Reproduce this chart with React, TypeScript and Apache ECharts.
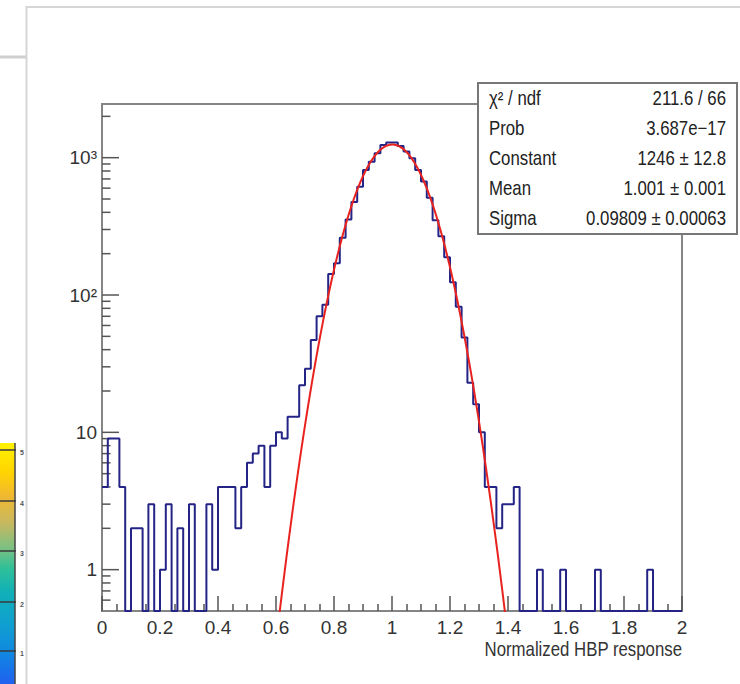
import React, { useEffect, useRef } from 'react';
import * as echarts from 'echarts';

const FONT = '"Liberation Sans Narrow", "Arial Narrow", "Liberation Sans", Arial, sans-serif';

// Histogram: 100 bins on [0, 2]
const xRange = [0, 2];
const counts = [
  4, 9, 9, 4, 0, 2, 2, 0, 3, 0,
  1, 3, 0, 2, 0, 3, 0, 0, 3, 1,
  4, 4, 4, 2, 4, 6, 7, 8, 4, 8,
  10, 9, 13, 13, 22, 29, 47, 70, 85, 142,
  170, 261, 354, 476, 613, 813, 935, 1077, 1239, 1290,
  1288, 1215, 1107, 990, 813, 670, 510, 350, 268, 188,
  124, 82, 49, 23, 16, 10, 4, 4, 2, 3,
  3, 4, 0, 0, 0, 1, 0, 0, 0, 1,
  0, 0, 0, 0, 0, 1, 0, 0, 0, 0,
  0, 0, 0, 0, 1, 0, 0, 0, 0, 0,
];
const yRange = [0.5, 2460];
const yMajorTicks = [1, 10, 100, 1000];
const yMinorTicks = [0.6, 0.7, 0.8, 0.9, 2, 3, 4, 5, 6, 7, 8, 9, 20, 30, 40, 50, 60, 70, 80, 90,
  200, 300, 400, 500, 600, 700, 800, 900, 2000];

// Gaussian fit (parameters shown in the stats box)
const fitConstant = 1246;
const fitMean = 1.001;
const fitSigma = 0.09809;
const fitRange = [0.6, 1.4];

const xTitle = 'Normalized HBP response';
const statsNames = ['χ² / ndf', 'Prob', 'Constant', 'Mean', 'Sigma'];
const statsValues = ['211.6 / 66', '3.687e−17', '1246 ± 12.8', '1.001 ± 0.001', '0.09809 ± 0.00063'];

const paletteLabels = ['5', '4', '3', '2', '1'];

export default function App() {
  const ref = useRef<HTMLDivElement>(null);
  useEffect(() => {
    if (!ref.current) return;
    document.body.style.margin = '0';
    const chart = echarts.init(ref.current, undefined, { renderer: 'svg' });

    const binW = (xRange[1] - xRange[0]) / counts.length;
    const histData: number[][] = counts.map((c, i) => [xRange[0] + i * binW, c > 0 ? c : yRange[0]]);
    const last = counts[counts.length - 1];
    histData.push([xRange[1], last > 0 ? last : yRange[0]]);

    const fitData: number[][] = [];
    const nFit = 400;
    for (let k = 0; k <= nFit; k++) {
      const x = fitRange[0] + (fitRange[1] - fitRange[0]) * k / nFit;
      const z = (x - fitMean) / fitSigma;
      fitData.push([x, fitConstant * Math.exp(-0.5 * z * z)]);
    }

    const frameColor = '#858585';
    const tickColor = '#555';
    const labelColor = '#333';
    const narrow = 0.84;

    const yTickData = [
      ...yMajorTicks.map((v) => [0, v, 1]),
      ...yMinorTicks.map((v) => [0, v, 0]),
    ];

    const statsTop = 83;
    const statsRowH = 30;
    const statsGraphic: any[] = [
      {
        type: 'rect', z: 100,
        shape: { x: 478, y: statsTop, width: 259, height: 151 },
        style: { fill: '#fff', stroke: '#777', lineWidth: 2 },
      },
    ];
    statsNames.forEach((n, i) => {
      statsGraphic.push({
        type: 'text', z: 101, x: 489, y: 98 + i * statsRowH, scaleX: narrow,
        style: { text: n, fill: '#222', fontSize: 20, fontFamily: FONT, align: 'left', verticalAlign: 'middle' },
      });
      statsGraphic.push({
        type: 'text', z: 101, x: 726, y: 98 + i * statsRowH, scaleX: narrow,
        style: { text: statsValues[i], fill: '#222', fontSize: 20, fontFamily: FONT, align: 'right', verticalAlign: 'middle' },
      });
    });

    const titleGraphic: any[] = [
      {
        type: 'text', z: 50, x: 682, y: 649, scaleX: narrow,
        style: { text: xTitle, fill: labelColor, fontSize: 20, fontFamily: FONT, align: 'right', verticalAlign: 'middle' },
      },
    ];

    const paletteTop = 443;
    const paletteLines = [450, 501, 551, 602, 651];
    const paletteGraphic: any[] = [
      {
        type: 'rect', z: 10,
        shape: { x: 0, y: paletteTop, width: 15, height: 684 - paletteTop },
        style: {
          fill: new echarts.graphic.LinearGradient(0, 0, 0, 1, [
            { offset: 0, color: '#fff200' },
            { offset: 0.12, color: '#ffd400' },
            { offset: 0.22, color: '#f0b830' },
            { offset: 0.33, color: '#c8b860' },
            { offset: 0.43, color: '#80c080' },
            { offset: 0.52, color: '#30c098' },
            { offset: 0.62, color: '#10b0b8' },
            { offset: 0.75, color: '#10a0d0' },
            { offset: 0.87, color: '#1088e0' },
            { offset: 1, color: '#2060f0' },
          ]),
        },
      },
      {
        type: 'line', z: 11,
        shape: { x1: 15, y1: paletteTop, x2: 15, y2: 684 },
        style: { stroke: '#444', lineWidth: 1.5 },
      },
    ];
    paletteLines.forEach((y, i) => {
      paletteGraphic.push({
        type: 'line', z: 11,
        shape: { x1: 0, y1: y, x2: 16, y2: y },
        style: { stroke: '#3a3a3a', lineWidth: 1.5 },
      });
      paletteGraphic.push({
        type: 'text', z: 11, x: 22, y: y + 2,
        style: { text: paletteLabels[i], fill: '#555', fontSize: 7, fontWeight: 'bold', fontFamily: FONT, align: 'center', verticalAlign: 'middle' },
      });
    });

    const screenGraphic: any[] = [
      { type: 'line', z: 5, shape: { x1: 26.5, y1: 6, x2: 26.5, y2: 684 }, style: { stroke: '#d6d6d6', lineWidth: 2 } },
      { type: 'line', z: 5, shape: { x1: 26, y1: 7, x2: 740, y2: 7 }, style: { stroke: '#d6d6d6', lineWidth: 2 } },
      { type: 'line', z: 5, shape: { x1: 0, y1: 57, x2: 26, y2: 57 }, style: { stroke: '#cfcfcf', lineWidth: 3 } },
    ];

    chart.setOption({
      animation: false,
      backgroundColor: '#ffffff',
      grid: {
        left: 102, top: 104, width: 580, height: 507,
        show: true, borderColor: frameColor, borderWidth: 2, backgroundColor: 'transparent',
        outerBoundsMode: 'none',
      },
      xAxis: {
        type: 'value', min: xRange[0], max: xRange[1], interval: 0.2,
        axisLine: { show: true, onZero: false, lineStyle: { color: frameColor, width: 2 } },
        axisTick: { show: true, inside: true, length: 15, lineStyle: { color: tickColor, width: 1.5 } },
        minorTick: { show: true, splitNumber: 4, length: 7, lineStyle: { color: tickColor, width: 1.5 } },
        splitLine: { show: false },
        minorSplitLine: { show: false },
        axisLabel: {
          color: labelColor, fontSize: 19, fontFamily: FONT, margin: 7,
          showMinLabel: true, showMaxLabel: true,
        },
      },
      yAxis: {
        type: 'log', logBase: 10, min: yRange[0], max: yRange[1],
        axisLine: { show: true, lineStyle: { color: frameColor, width: 2 } },
        axisTick: { show: false },
        minorTick: { show: false },
        splitLine: { show: false },
        axisLabel: {
          color: labelColor, fontSize: 19, fontFamily: FONT, margin: 5,
          showMinLabel: false, showMaxLabel: false,
          formatter: (v: number) => {
            const l = Math.log10(v);
            const e = Math.round(l);
            if (Math.abs(l - e) > 1e-6) return '';
            if (e === 0) return '1';
            if (e === 1) return '10';
            const sup: Record<number, string> = { 2: '²', 3: '³', 4: '⁴' };
            return '10' + (sup[e] || '');
          },
        },
      },
      series: [
        {
          type: 'custom',
          data: yTickData,
          silent: true,
          z: 2,
          renderItem: (params: any, api: any) => {
            const v = api.value(1);
            const major = api.value(2) === 1;
            const p = api.coord([xRange[0], v]);
            const len = major ? 17 : 8.5;
            return {
              type: 'line',
              shape: { x1: p[0], y1: p[1], x2: p[0] + len, y2: p[1] },
              style: { stroke: tickColor, lineWidth: 1.5 },
            };
          },
        },
        {
          type: 'line',
          name: 'histogram',
          data: histData,
          step: 'end',
          symbol: 'none',
          clip: true,
          z: 3,
          lineStyle: { color: '#242487', width: 2 },
        },
        {
          type: 'line',
          name: 'gaus fit',
          data: fitData,
          symbol: 'none',
          clip: true,
          smooth: false,
          z: 4,
          lineStyle: { color: '#e8231f', width: 2 },
        },
      ],
      graphic: [...screenGraphic, ...paletteGraphic, ...titleGraphic, ...statsGraphic],
    });
    return () => chart.dispose();
  }, []);
  return <div ref={ref} style={{ position: 'fixed', left: 0, top: 0, width: 740, height: 684 }} />;
}
